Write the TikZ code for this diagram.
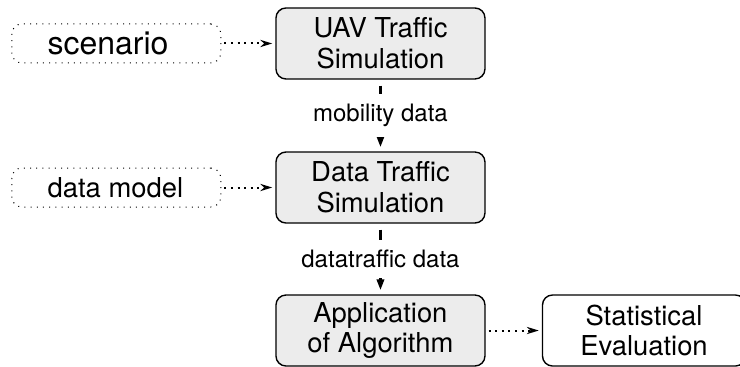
\documentclass[tikz,border=0pt]{standalone}
\usepackage{fontspec}
\setmainfont{TeX Gyre Heros}
\usetikzlibrary{arrows.meta}

\begin{document}
\begin{tikzpicture}
\useasboundingbox (0,0) rectangle (13.004,-6.449);

\begin{scope}[every node/.style={rounded corners=5pt,draw,line width=0.7pt,align=center,
              font=\fontsize{13.7}{15.3}\selectfont,minimum width=104.5pt,minimum height=35.5pt}]
    \node (uav) at (6.686, -0.764) [fill=gray!15] {UAV Traffic\\Simulation};
    \node (dts) at (6.686, -3.295) [fill=gray!15] {Data Traffic\\Simulation};
    \node (algo) at (6.686, -5.808) [fill=gray!15] {Application\\of Algorithm};
    \node (stat) at (11.317, -5.808) [minimum width=101.5pt] {Statistical\\Evaluation};

    \node (scen) at (2.044, -0.764) [line width=0.5pt,dash pattern=on 0.5pt off 2.6pt,
        inner xsep=17.5pt,minimum height=19.5pt,
        font=\fontsize{16}{16}\selectfont] {\makebox[68.75pt][l]{scenario}};
    \node (dmod) at (2.044, -3.295) [line width=0.5pt,dash pattern=on 0.5pt off 2.6pt,
        inner xsep=17.5pt,minimum height=19.5pt,
        font=\fontsize{13.7}{15}\selectfont] {\makebox[68.75pt][l]{data model}};
\end{scope}

\begin{scope}[>={Triangle[length=5.5pt,width=3.6pt]},
              every node/.style={fill=white,inner ysep=5pt,font=\fontsize{12}{14}\selectfont},
              every edge/.style={draw,line width=1.4pt,shorten <=3pt,shorten >=2pt}]

    \path [->] (uav) edge node {mobility data} (dts);
    \path [->] (dts) edge node {datatraffic data} (algo);
\end{scope}

\begin{scope}[>={Stealth[length=6pt,width=3.6pt]},
              every edge/.style={draw,line width=1pt,dash pattern=on 1pt off 2.3pt,
              shorten <=1.5pt,shorten >=1.5pt}]

    \path [->] (scen) edge (uav);
    \path [->] (dmod) edge (dts);
    \path [->] (algo) edge (stat);
\end{scope}
\end{tikzpicture}
\end{document}
